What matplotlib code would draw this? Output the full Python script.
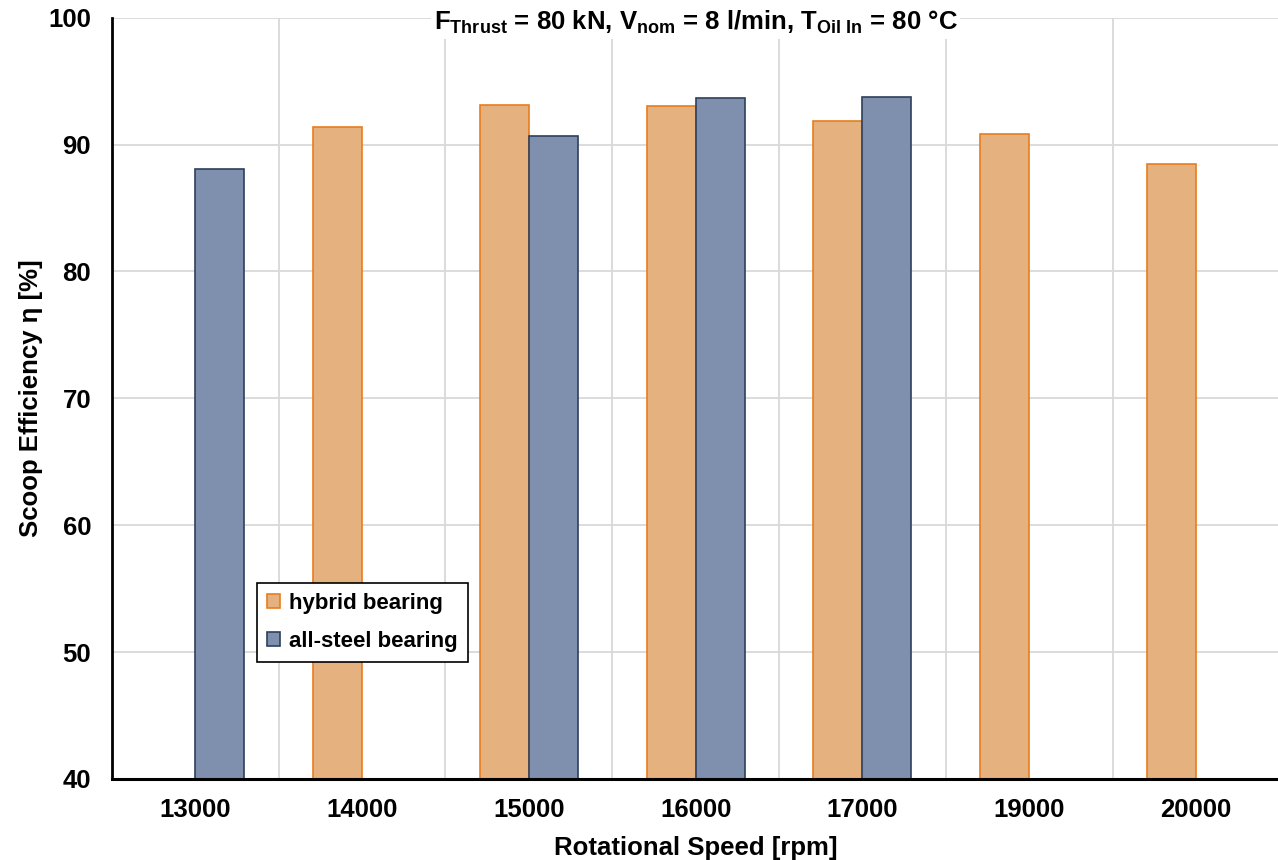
import matplotlib
matplotlib.use("Agg")
import matplotlib.pyplot as plt
import numpy as np

plt.rcParams['font.family'] = ['Liberation Sans', 'DejaVu Sans']
plt.rcParams['font.weight'] = 'bold'
plt.rcParams['mathtext.fontset'] = 'custom'
plt.rcParams['mathtext.rm'] = 'Liberation Sans:bold'
plt.rcParams['mathtext.bf'] = 'Liberation Sans:bold'
plt.rcParams['mathtext.it'] = 'Liberation Sans:bold'
plt.rcParams['mathtext.default'] = 'bf'

categories = ["13000", "14000", "15000", "16000", "17000", "19000", "20000"]
hybrid = [np.nan, 91.4, 93.15, 93.05, 91.85, 90.85, 88.45]
steel = [88.05, np.nan, 90.65, 93.65, 93.75, np.nan, np.nan]

fig = plt.figure(figsize=(12.78, 8.6), dpi=100)
ax = fig.add_axes([0.0876, 0.0942, 0.9134, 0.8852])

x = np.arange(len(categories))
w = 0.294
ax.bar(x - w / 2, hybrid, width=w, color='#E5B17E', edgecolor='#E87D1E',
       linewidth=1.2, label='hybrid bearing', zorder=3)
ax.bar(x + w / 2, steel, width=w, color='#7F8FAE', edgecolor='#2E405C',
       linewidth=1.2, label='all-steel bearing', zorder=3)

ax.set_xlim(-0.5, len(categories) - 0.5)
ax.set_ylim(40, 100)
ax.set_yticks(np.arange(40, 101, 10))
ax.set_xticks(x)
ax.set_xticklabels(categories)
ax.set_xticks(np.arange(0.5, len(categories) - 0.5, 1), minor=True)
ax.grid(True, which='minor', axis='x', color='#D9D9D9', linewidth=1.3, zorder=0)
ax.grid(True, which='major', axis='y', color='#D9D9D9', linewidth=1.3, zorder=0)
ax.tick_params(axis='both', which='both', length=0, labelsize=18.5)
ax.tick_params(axis='y', pad=15)
ax.tick_params(axis='x', pad=14)

for s in ['top', 'right']:
    ax.spines[s].set_visible(False)
ax.spines['left'].set_linewidth(2)
ax.spines['bottom'].set_linewidth(2.2)
ax.spines['left'].set_zorder(4)
ax.spines['bottom'].set_zorder(4)

ax.set_xlabel('Rotational Speed [rpm]', fontsize=18.5, fontweight='bold', labelpad=10)
ax.set_ylabel('Scoop Efficiency η [%]', fontsize=18.5, fontweight='bold', labelpad=4)

title = r"F$_{Thrust}$ = 80 kN, V$_{nom}$ = 8 l/min, T$_{Oil\ In}$ = 80 °C"
ax.text(0.5, 0.994, title, transform=ax.transAxes, ha='center', va='center',
        fontsize=18.5, fontweight='bold',
        bbox=dict(facecolor='white', edgecolor='none', pad=2), zorder=5)

leg = ax.legend(loc='upper left', bbox_to_anchor=(0.1243, 0.2576), fontsize=16,
                frameon=True, fancybox=False, edgecolor='black', framealpha=1,
                handlelength=0.6, handleheight=0.6, handletextpad=0.4,
                borderpad=0.45, labelspacing=0.75, borderaxespad=0)
leg.get_frame().set_linewidth(1.2)
leg.set_zorder(6)

fig.savefig('out.png', dpi=100)
